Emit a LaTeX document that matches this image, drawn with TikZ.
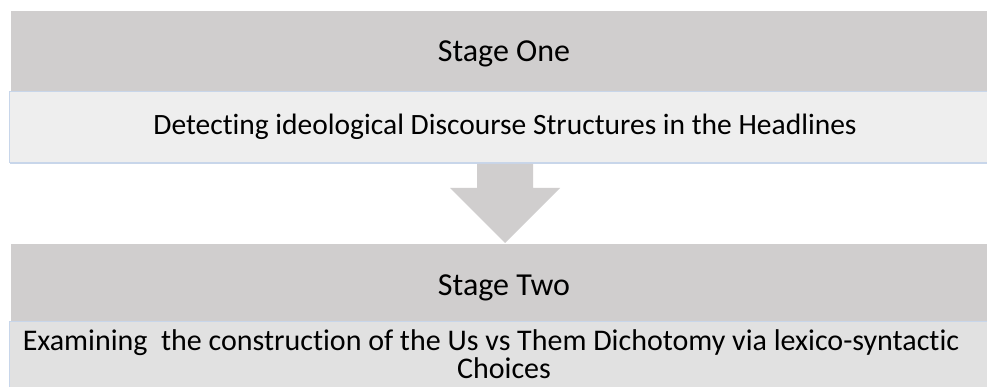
\documentclass[tikz,border=0pt]{standalone}
\usepackage{fontspec}
\setmainfont[Ligatures={NoCommon}]{Carlito}
\definecolor{stagegray}{HTML}{D0CECE}
\definecolor{lightone}{HTML}{EEEEEE}
\definecolor{lighttwo}{HTML}{E1E1E1}
\definecolor{edgeblue}{HTML}{C8D6EA}
\begin{document}
\begin{tikzpicture}[x=1pt,y=-1pt,
  headbox/.style={fill=stagegray,draw=none},
  bodyline/.style={draw=edgeblue,line width=1.2pt},
  label/.style={font=\fontsize{32}{32}\selectfont,anchor=base,inner sep=0pt},
  bodylabel/.style={font=\fontsize{30}{28}\selectfont,anchor=base,inner sep=0pt,align=center}]
\useasboundingbox (0,0) rectangle (987,387);
\fill[white] (0,0) rectangle (987,387);
% stage one
\path[headbox] (11,11) rectangle (987,91);
\path[fill=lightone] (9,91) rectangle (987,163);
\draw[bodyline] (9.6,163) -- (9.6,91.6) -- (987,91.6);
\draw[bodyline] (9.6,163) -- (987,163);
\node[label] (s1) at (504,62) {Stage One};
\node[bodylabel,font=\fontsize{29.5}{28}\selectfont] (d1) at (505,135) {Detecting ideological Discourse Structures in the Headlines};
% arrow
\fill[stagegray] (477,164) -- (533,164) -- (533,188) -- (560,188) -- (505,243) -- (450,188) -- (477,188) -- cycle;
% stage two
\path[headbox] (11,244) rectangle (987,321);
\path[fill=lighttwo] (9,321) rectangle (987,387);
\draw[bodyline] (9.6,387) -- (9.6,321.6) -- (987,321.6);
\node[label] (s2) at (504,295) {Stage Two};
\node[bodylabel] (d2) at (491,378) {Examining\ \ the construction of the Us vs Them Dichotomy via lexico-syntactic\\\hspace*{26pt}Choices};
\end{tikzpicture}
\end{document}
